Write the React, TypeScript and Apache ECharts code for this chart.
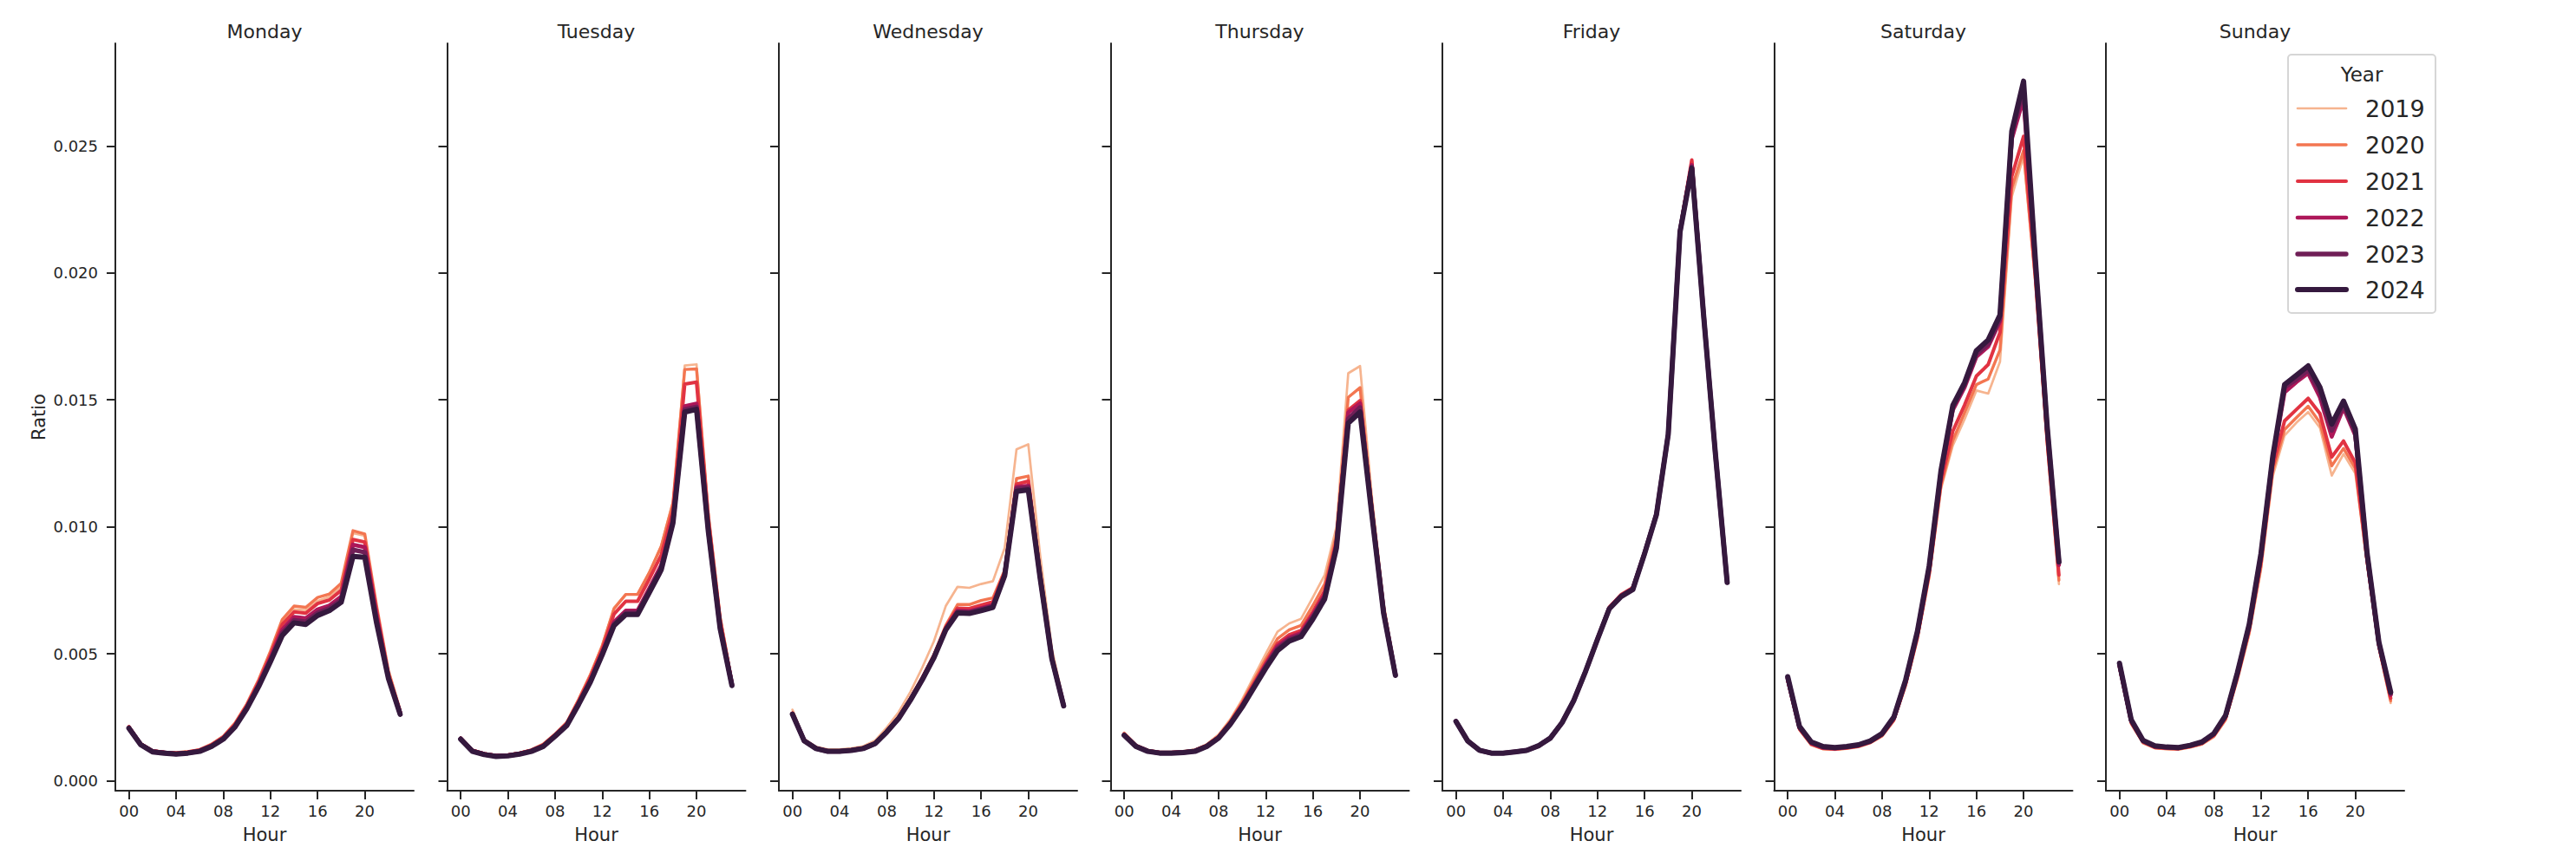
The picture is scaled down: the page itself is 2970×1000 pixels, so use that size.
import React, { useEffect, useRef } from "react";
import * as echarts from "echarts";

const hours = [0,1,2,3,4,5,6,7,8,9,10,11,12,13,14,15,16,17,18,19,20,21,22,23];
const days = ["Monday","Tuesday","Wednesday","Thursday","Friday","Saturday","Sunday"];
const years = ["2019","2020","2021","2022","2023","2024"];
const yearColors = ["#f6b48f","#f37651","#e13342","#ad1759","#701f57","#35193e"];
const yearWidths = [2.7,3.4,4.0,4.7,5.3,6.0];
const xTicks = [0,4,8,12,16,20];
const yTicks = [0,0.005,0.01,0.015,0.02,0.025];

// Monday
const mon2019 = [0.00215,0.00148,0.00120,0.00114,0.00112,0.00116,0.00124,0.00145,0.00176,0.00228,0.00302,0.00395,0.00505,0.00625,0.00675,0.00672,0.00708,0.00725,0.00765,0.00975,0.00965,0.00680,0.00430,0.00275];
const mon2020 = [0.00214,0.00147,0.00119,0.00113,0.00111,0.00115,0.00123,0.00144,0.00175,0.00228,0.00303,0.00398,0.00510,0.00635,0.00688,0.00683,0.00722,0.00736,0.00778,0.00985,0.00972,0.00690,0.00435,0.00278];
const mon2021 = [0.00212,0.00145,0.00117,0.00112,0.00109,0.00113,0.00121,0.00141,0.00171,0.00222,0.00296,0.00388,0.00495,0.00615,0.00665,0.00660,0.00698,0.00712,0.00750,0.00950,0.00940,0.00670,0.00420,0.00270];
const mon2022 = [0.00210,0.00144,0.00116,0.00111,0.00107,0.00111,0.00119,0.00138,0.00168,0.00217,0.00290,0.00380,0.00482,0.00595,0.00645,0.00640,0.00675,0.00690,0.00725,0.00930,0.00920,0.00650,0.00410,0.00268];
const mon2023 = [0.00208,0.00143,0.00115,0.00110,0.00106,0.00110,0.00117,0.00136,0.00166,0.00214,0.00287,0.00375,0.00475,0.00582,0.00632,0.00626,0.00661,0.00680,0.00712,0.00910,0.00900,0.00630,0.00408,0.00265];
const mon2024 = [0.00207,0.00142,0.00114,0.00109,0.00105,0.00109,0.00116,0.00135,0.00164,0.00212,0.00284,0.00371,0.00469,0.00572,0.00622,0.00616,0.00651,0.00670,0.00703,0.00884,0.00880,0.00622,0.00404,0.00262];

// Tuesday
const tue2019 = [0.00170,0.00122,0.00108,0.00101,0.00103,0.00111,0.00123,0.00145,0.00185,0.00232,0.00322,0.00420,0.00535,0.00682,0.00735,0.00735,0.00822,0.00925,0.01100,0.01635,0.01640,0.01055,0.00650,0.00392];
const tue2020 = [0.00169,0.00121,0.00107,0.00100,0.00102,0.00110,0.00122,0.00144,0.00184,0.00230,0.00320,0.00418,0.00530,0.00677,0.00734,0.00734,0.00820,0.00922,0.01093,0.01620,0.01622,0.01050,0.00645,0.00390];
const tue2021 = [0.00168,0.00120,0.00106,0.00099,0.00101,0.00109,0.00120,0.00141,0.00181,0.00226,0.00313,0.00408,0.00518,0.00656,0.00707,0.00707,0.00795,0.00888,0.01065,0.01562,0.01570,0.01030,0.00632,0.00385];
const tue2022 = [0.00166,0.00118,0.00105,0.00098,0.00100,0.00107,0.00118,0.00138,0.00178,0.00222,0.00306,0.00396,0.00505,0.00625,0.00670,0.00670,0.00758,0.00848,0.01030,0.01475,0.01485,0.00995,0.00610,0.00380];
const tue2023 = [0.00165,0.00117,0.00104,0.00097,0.00099,0.00106,0.00117,0.00136,0.00176,0.00220,0.00303,0.00392,0.00500,0.00617,0.00662,0.00662,0.00750,0.00838,0.01022,0.01462,0.01472,0.00988,0.00605,0.00378];
const tue2024 = [0.00164,0.00116,0.00103,0.00096,0.00098,0.00105,0.00116,0.00135,0.00175,0.00218,0.00301,0.00389,0.00496,0.00611,0.00655,0.00655,0.00742,0.00830,0.01015,0.01452,0.01463,0.00982,0.00600,0.00375];

// Wednesday
const wed2019 = [0.00280,0.00165,0.00134,0.00124,0.00124,0.00128,0.00136,0.00158,0.00210,0.00270,0.00350,0.00445,0.00550,0.00688,0.00764,0.00760,0.00775,0.00786,0.00917,0.01305,0.01325,0.00890,0.00520,0.00310];
const wed2020 = [0.00268,0.00160,0.00130,0.00119,0.00119,0.00123,0.00131,0.00150,0.00198,0.00252,0.00326,0.00408,0.00498,0.00612,0.00694,0.00694,0.00710,0.00720,0.00830,0.01190,0.01200,0.00825,0.00490,0.00300];
const wed2021 = [0.00266,0.00159,0.00129,0.00118,0.00118,0.00122,0.00129,0.00148,0.00196,0.00249,0.00322,0.00403,0.00492,0.00604,0.00680,0.00678,0.00692,0.00705,0.00822,0.01168,0.01180,0.00815,0.00486,0.00298];
const wed2022 = [0.00264,0.00158,0.00128,0.00117,0.00117,0.00121,0.00128,0.00147,0.00194,0.00247,0.00320,0.00400,0.00489,0.00599,0.00670,0.00668,0.00680,0.00692,0.00815,0.01157,0.01162,0.00808,0.00483,0.00297];
const wed2023 = [0.00263,0.00157,0.00127,0.00116,0.00116,0.00120,0.00127,0.00146,0.00193,0.00246,0.00318,0.00398,0.00487,0.00596,0.00665,0.00663,0.00675,0.00687,0.00811,0.01150,0.01155,0.00804,0.00481,0.00296];
const wed2024 = [0.00262,0.00157,0.00127,0.00116,0.00116,0.00120,0.00127,0.00146,0.00192,0.00245,0.00317,0.00397,0.00485,0.00594,0.00661,0.00659,0.00670,0.00683,0.00808,0.01140,0.01146,0.00800,0.00480,0.00295];

// Thursday
const thu2019 = [0.00190,0.00142,0.00122,0.00114,0.00114,0.00117,0.00123,0.00144,0.00182,0.00242,0.00320,0.00410,0.00500,0.00587,0.00620,0.00638,0.00723,0.00810,0.01000,0.01605,0.01633,0.01120,0.00700,0.00430];
const thu2020 = [0.00187,0.00140,0.00120,0.00112,0.00112,0.00115,0.00121,0.00141,0.00177,0.00236,0.00310,0.00395,0.00480,0.00560,0.00595,0.00612,0.00690,0.00775,0.00970,0.01510,0.01548,0.01090,0.00685,0.00425];
const thu2021 = [0.00184,0.00138,0.00118,0.00111,0.00111,0.00113,0.00119,0.00138,0.00173,0.00230,0.00302,0.00383,0.00465,0.00540,0.00575,0.00592,0.00665,0.00748,0.00945,0.01460,0.01497,0.01070,0.00672,0.00420];
const thu2022 = [0.00182,0.00137,0.00117,0.00110,0.00110,0.00112,0.00118,0.00137,0.00171,0.00227,0.00297,0.00376,0.00456,0.00530,0.00565,0.00582,0.00653,0.00733,0.00932,0.01450,0.01486,0.01062,0.00668,0.00418];
const thu2023 = [0.00180,0.00136,0.00117,0.00110,0.00110,0.00112,0.00117,0.00136,0.00170,0.00225,0.00293,0.00371,0.00450,0.00521,0.00557,0.00575,0.00645,0.00725,0.00925,0.01425,0.01470,0.01055,0.00663,0.00416];
const thu2024 = [0.00179,0.00135,0.00116,0.00109,0.00109,0.00111,0.00116,0.00135,0.00168,0.00223,0.00290,0.00367,0.00443,0.00513,0.00550,0.00568,0.00637,0.00716,0.00917,0.01408,0.01452,0.01048,0.00659,0.00415];

// Friday
const fri2019 = [0.00238,0.00158,0.00122,0.00110,0.00110,0.00115,0.00121,0.00140,0.00171,0.00232,0.00320,0.00434,0.00560,0.00686,0.00736,0.00764,0.00905,0.01058,0.01370,0.02175,0.02430,0.01840,0.01292,0.00785];
const fri2020 = [0.00237,0.00158,0.00121,0.00110,0.00110,0.00115,0.00121,0.00139,0.00170,0.00231,0.00319,0.00434,0.00559,0.00684,0.00733,0.00761,0.00902,0.01055,0.01368,0.02172,0.02440,0.01842,0.01290,0.00783];
const fri2021 = [0.00236,0.00158,0.00121,0.00110,0.00110,0.00114,0.00121,0.00139,0.00170,0.00230,0.00318,0.00433,0.00559,0.00683,0.00732,0.00760,0.00900,0.01053,0.01368,0.02170,0.02445,0.01840,0.01290,0.00783];
const fri2022 = [0.00235,0.00157,0.00120,0.00109,0.00109,0.00114,0.00120,0.00138,0.00169,0.00230,0.00318,0.00433,0.00558,0.00680,0.00729,0.00757,0.00898,0.01050,0.01366,0.02166,0.02425,0.01837,0.01289,0.00782];
const fri2023 = [0.00234,0.00157,0.00120,0.00109,0.00109,0.00114,0.00120,0.00138,0.00168,0.00229,0.00317,0.00432,0.00557,0.00678,0.00727,0.00755,0.00896,0.01049,0.01365,0.02163,0.02418,0.01835,0.01288,0.00781];
const fri2024 = [0.00234,0.00157,0.00120,0.00109,0.00109,0.00114,0.00120,0.00138,0.00168,0.00229,0.00317,0.00432,0.00557,0.00677,0.00725,0.00753,0.00895,0.01048,0.01364,0.02161,0.02412,0.01834,0.01288,0.00781];

// Saturday
const sat2019 = [0.00390,0.00200,0.00140,0.00124,0.00122,0.00126,0.00133,0.00148,0.00175,0.00235,0.00372,0.00555,0.00800,0.01150,0.01320,0.01424,0.01537,0.01525,0.01650,0.02300,0.02459,0.01960,0.01320,0.00775];
const sat2020 = [0.00392,0.00202,0.00142,0.00126,0.00124,0.00128,0.00135,0.00150,0.00177,0.00238,0.00376,0.00561,0.00808,0.01162,0.01340,0.01450,0.01560,0.01582,0.01697,0.02333,0.02482,0.01970,0.01330,0.00790];
const sat2021 = [0.00396,0.00205,0.00145,0.00128,0.00126,0.00130,0.00137,0.00152,0.00180,0.00242,0.00382,0.00569,0.00820,0.01180,0.01377,0.01480,0.01594,0.01639,0.01766,0.02380,0.02538,0.01990,0.01345,0.00810];
const sat2022 = [0.00402,0.00209,0.00149,0.00131,0.00128,0.00132,0.00139,0.00154,0.00183,0.00246,0.00390,0.00580,0.00835,0.01205,0.01460,0.01550,0.01670,0.01710,0.01810,0.02527,0.02688,0.02030,0.01380,0.00850];
const sat2023 = [0.00406,0.00212,0.00151,0.00133,0.00130,0.00134,0.00141,0.00156,0.00185,0.00249,0.00394,0.00585,0.00842,0.01215,0.01470,0.01560,0.01680,0.01720,0.01820,0.02545,0.02721,0.02040,0.01390,0.00860];
const sat2024 = [0.00410,0.00214,0.00153,0.00135,0.00131,0.00135,0.00142,0.00157,0.00186,0.00251,0.00397,0.00589,0.00847,0.01222,0.01478,0.01568,0.01694,0.01736,0.01834,0.02558,0.02755,0.02052,0.01397,0.00862];

// Sunday
const sun2019 = [0.00440,0.00222,0.00148,0.00128,0.00124,0.00123,0.00131,0.00143,0.00172,0.00238,0.00395,0.00575,0.00830,0.01200,0.01360,0.01410,0.01452,0.01390,0.01202,0.01287,0.01210,0.00850,0.00520,0.00306];
const sun2020 = [0.00445,0.00226,0.00150,0.00130,0.00126,0.00125,0.00133,0.00145,0.00175,0.00242,0.00402,0.00585,0.00845,0.01220,0.01383,0.01430,0.01475,0.01410,0.01240,0.01309,0.01230,0.00860,0.00526,0.00315];
const sun2021 = [0.00450,0.00230,0.00153,0.00132,0.00128,0.00127,0.00135,0.00148,0.00179,0.00247,0.00410,0.00596,0.00862,0.01240,0.01417,0.01462,0.01506,0.01446,0.01275,0.01338,0.01252,0.00870,0.00532,0.00325];
const sun2022 = [0.00456,0.00235,0.00156,0.00135,0.00131,0.00129,0.00138,0.00151,0.00183,0.00253,0.00418,0.00606,0.00880,0.01262,0.01530,0.01570,0.01605,0.01510,0.01355,0.01469,0.01360,0.00885,0.00540,0.00338];
const sun2023 = [0.00460,0.00238,0.00158,0.00137,0.00132,0.00130,0.00139,0.00152,0.00185,0.00256,0.00423,0.00612,0.00888,0.01270,0.01550,0.01580,0.01617,0.01530,0.01380,0.01480,0.01370,0.00890,0.00543,0.00344];
const sun2024 = [0.00463,0.00240,0.00159,0.00138,0.00133,0.00131,0.00140,0.00153,0.00186,0.00258,0.00426,0.00616,0.00895,0.01277,0.01560,0.01597,0.01634,0.01550,0.01405,0.01495,0.01385,0.00895,0.00546,0.00349];

const dayData = [
  [mon2019, mon2020, mon2021, mon2022, mon2023, mon2024],
  [tue2019, tue2020, tue2021, tue2022, tue2023, tue2024],
  [wed2019, wed2020, wed2021, wed2022, wed2023, wed2024],
  [thu2019, thu2020, thu2021, thu2022, thu2023, thu2024],
  [fri2019, fri2020, fri2021, fri2022, fri2023, fri2024],
  [sat2019, sat2020, sat2021, sat2022, sat2023, sat2024],
  [sun2019, sun2020, sun2021, sun2022, sun2023, sun2024],
];

const FONT = "DejaVu Sans";
const INK = "#262626";

export default function App() {
  const ref = useRef<HTMLDivElement>(null);
  useEffect(() => {
    if (!ref.current) return;
    const chart = echarts.init(ref.current, undefined, { renderer: "svg" });
    const gridLeft0 = 133;
    const gridStep = 382.5;
    const gridW = 344;
    const gridTop = 50;
    const gridH = 862;

    const grids: any[] = [];
    const xAxes: any[] = [];
    const yAxes: any[] = [];
    const titles: any[] = [];
    const series: any[] = [];

    days.forEach((day, d) => {
      const left = gridLeft0 + gridStep * d;
      grids.push({ left, top: gridTop, width: gridW, height: gridH, containLabel: false });
      titles.push({
        text: day,
        left: left + gridW / 2,
        top: 25,
        textAlign: "center",
        padding: 0,
        textStyle: { fontFamily: FONT, fontSize: 22, fontWeight: "normal", color: INK },
      });
      xAxes.push({
        type: "value",
        gridIndex: d,
        min: -1.15,
        max: 24.15,
        splitLine: { show: false },
        axisLine: { show: true, onZero: false, lineStyle: { color: INK, width: 2 } },
        axisTick: { show: true, length: 10, lineStyle: { color: INK, width: 2 }, customValues: xTicks },
        axisLabel: {
          show: true,
          customValues: xTicks,
          formatter: (v: number) => String(v).padStart(2, "0"),
          fontFamily: FONT,
          fontSize: 18,
          color: INK,
          margin: 14,
        },
        name: "Hour",
        nameLocation: "middle",
        nameGap: 40,
        nameTextStyle: { fontFamily: FONT, fontSize: 21, color: INK },
      });
      yAxes.push({
        type: "value",
        gridIndex: d,
        min: -0.00039,
        max: 0.02904,
        splitLine: { show: false },
        axisLine: { show: true, onZero: false, lineStyle: { color: INK, width: 2 } },
        axisTick: { show: true, length: 10, lineStyle: { color: INK, width: 2 }, customValues: yTicks },
        axisLabel: {
          show: d === 0,
          customValues: yTicks,
          formatter: (v: number) => v.toFixed(3),
          fontFamily: FONT,
          fontSize: 18,
          color: INK,
          margin: 20,
        },
        name: d === 0 ? "Ratio" : "",
        nameLocation: "middle",
        nameGap: 78,
        nameRotate: 90,
        nameTextStyle: { fontFamily: FONT, fontSize: 21, color: INK },
      });
      dayData[d].forEach((vals, yi) => {
        series.push({
          type: "line",
          name: years[yi],
          xAxisIndex: d,
          yAxisIndex: d,
          data: hours.map((h, i) => [h, vals[i]]),
          showSymbol: false,
          symbol: "none",
          silent: true,
          z: 2 + yi,
          lineStyle: { color: yearColors[yi], width: yearWidths[yi], cap: "round", join: "round" },
        });
      });
    });

    // Legend (drawn as graphic)
    const lgX = 2638, lgY = 63, lgW = 170, lgH = 298;
    const entryY = [125, 167, 209, 251, 293, 334];
    const legendChildren: any[] = [
      {
        type: "rect",
        shape: { x: lgX, y: lgY, width: lgW, height: lgH, r: 4 },
        style: { fill: "rgba(255,255,255,0.8)", stroke: "#d6d6d6", lineWidth: 2 },
      },
      {
        type: "text",
        x: 2723,
        y: 86,
        style: { text: "Year", fontFamily: FONT, fontSize: 23, fill: INK, align: "center", verticalAlign: "middle" },
      },
    ];
    years.forEach((yr, i) => {
      legendChildren.push({
        type: "line",
        shape: { x1: 2649, y1: entryY[i], x2: 2705, y2: entryY[i] },
        style: { stroke: yearColors[i], lineWidth: yearWidths[i], lineCap: "round" },
      });
      legendChildren.push({
        type: "text",
        x: 2727,
        y: entryY[i],
        style: { text: yr, fontFamily: FONT, fontSize: 27, fill: INK, align: "left", verticalAlign: "middle" },
      });
    });

    chart.setOption({
      animation: false,
      backgroundColor: "#ffffff",
      title: titles,
      grid: grids,
      xAxis: xAxes,
      yAxis: yAxes,
      series,
      graphic: [{ type: "group", z: 100, children: legendChildren }],
    });
    return () => chart.dispose();
  }, []);
  return (
    <div
      ref={ref}
      style={{ position: "fixed", left: 0, top: 0, width: 2970, height: 1000, background: "#fff" }}
    />
  );
}
